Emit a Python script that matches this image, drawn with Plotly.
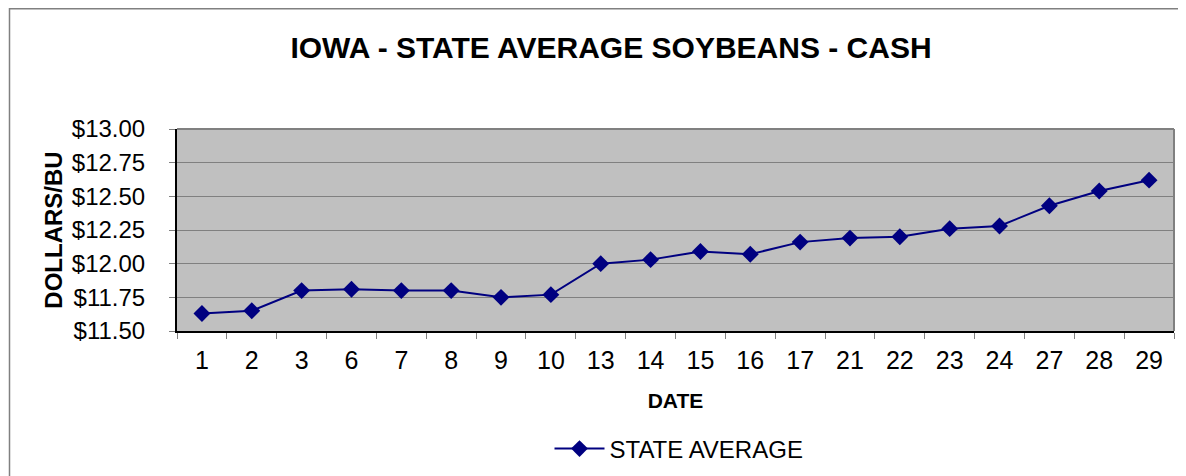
import plotly.graph_objects as go

dates = ["1", "2", "3", "6", "7", "8", "9", "10", "13", "14", "15", "16", "17", "21", "22", "23", "24", "27", "28", "29"]
state_average = [11.63, 11.65, 11.80, 11.81, 11.80, 11.80, 11.75, 11.77, 12.00, 12.03, 12.09, 12.07, 12.16, 12.19, 12.20, 12.26, 12.28, 12.43, 12.54, 12.62]
y_ticks = [11.50, 11.75, 12.00, 12.25, 12.50, 12.75, 13.00]
y_tick_labels = ["$11.50", "$11.75", "$12.00", "$12.25", "$12.50", "$12.75", "$13.00"]

# the page body has an 8px margin; work in reference pixel coords and shift
OFF = 8
W, H = 1186 - OFF, 476 - OFF
L, R, T, B = 177 - OFF, 1174 - OFF, 129 - OFF, 331 - OFF
pw, ph = R - L, B - T

def px(x):
    return (x - OFF - L) / pw

def py(y):
    return (B - (y - OFF)) / ph

fig = go.Figure()
fig.add_trace(go.Scatter(
    x=dates, y=state_average, mode="lines+markers", name="STATE AVERAGE",
    line=dict(color="#000080", width=2),
    marker=dict(symbol="diamond", size=13, color="#000080"),
))

font = "Liberation Sans, Arial, sans-serif"
fig.update_layout(
    width=W, height=H,
    margin=dict(l=L, r=W - R, t=T, b=H - B, autoexpand=False),
    paper_bgcolor="white", plot_bgcolor="#C0C0C0",
    font=dict(family=font, color="black", size=24),
    title=dict(text="<b>IOWA - STATE AVERAGE SOYBEANS - CASH</b>", x=(611 - OFF) / W, xanchor="center",
               y=1 - (47 - OFF) / H, yanchor="middle", font=dict(size=30, family=font, color="black")),
    showlegend=True,
    legend=dict(orientation="h", x=px(679), xanchor="center", y=py(449), yanchor="middle",
                itemwidth=50, font=dict(size=24, family=font), bgcolor="rgba(0,0,0,0)"),
    xaxis=dict(type="category", range=[-0.5, len(dates) - 0.5], tickson="boundaries", ticks="outside",
               ticklen=6, tickcolor="#808080",
               showgrid=False, showline=True, linecolor="black", linewidth=2, zeroline=False,
               tickfont=dict(size=25), ticklabelstandoff=6,
               title=dict(text="<b>DATE</b>", font=dict(size=21), standoff=20)),
    yaxis=dict(range=[11.5, 13.0], tickvals=y_ticks, ticktext=y_tick_labels, ticks="outside",
               ticklen=6, tickcolor="#808080", showgrid=True, gridcolor="#808080", gridwidth=1,
               showline=True, linecolor="black", linewidth=2, zeroline=False,
               tickfont=dict(size=24), ticklabelstandoff=19,
               title=dict(text="<b>DOLLARS/BU</b>", font=dict(size=24), standoff=2)),
    shapes=[
        dict(type="line", xref="paper", yref="paper", x0=0, x1=1, y0=1, y1=1,
             line=dict(color="#808080", width=2), layer="above"),
        dict(type="line", xref="paper", yref="paper", x0=1, x1=1, y0=0, y1=1,
             line=dict(color="#808080", width=2), layer="above"),
        dict(type="line", xref="paper", yref="paper", x0=px(9), x1=px(1300), y0=py(8.75), y1=py(8.75),
             line=dict(color="#808080", width=1.5)),
        dict(type="line", xref="paper", yref="paper", x0=px(9.5), x1=px(9.5), y0=py(8), y1=py(600),
             line=dict(color="#808080", width=1.5)),
    ],
)

fig.write_html("out.html")
